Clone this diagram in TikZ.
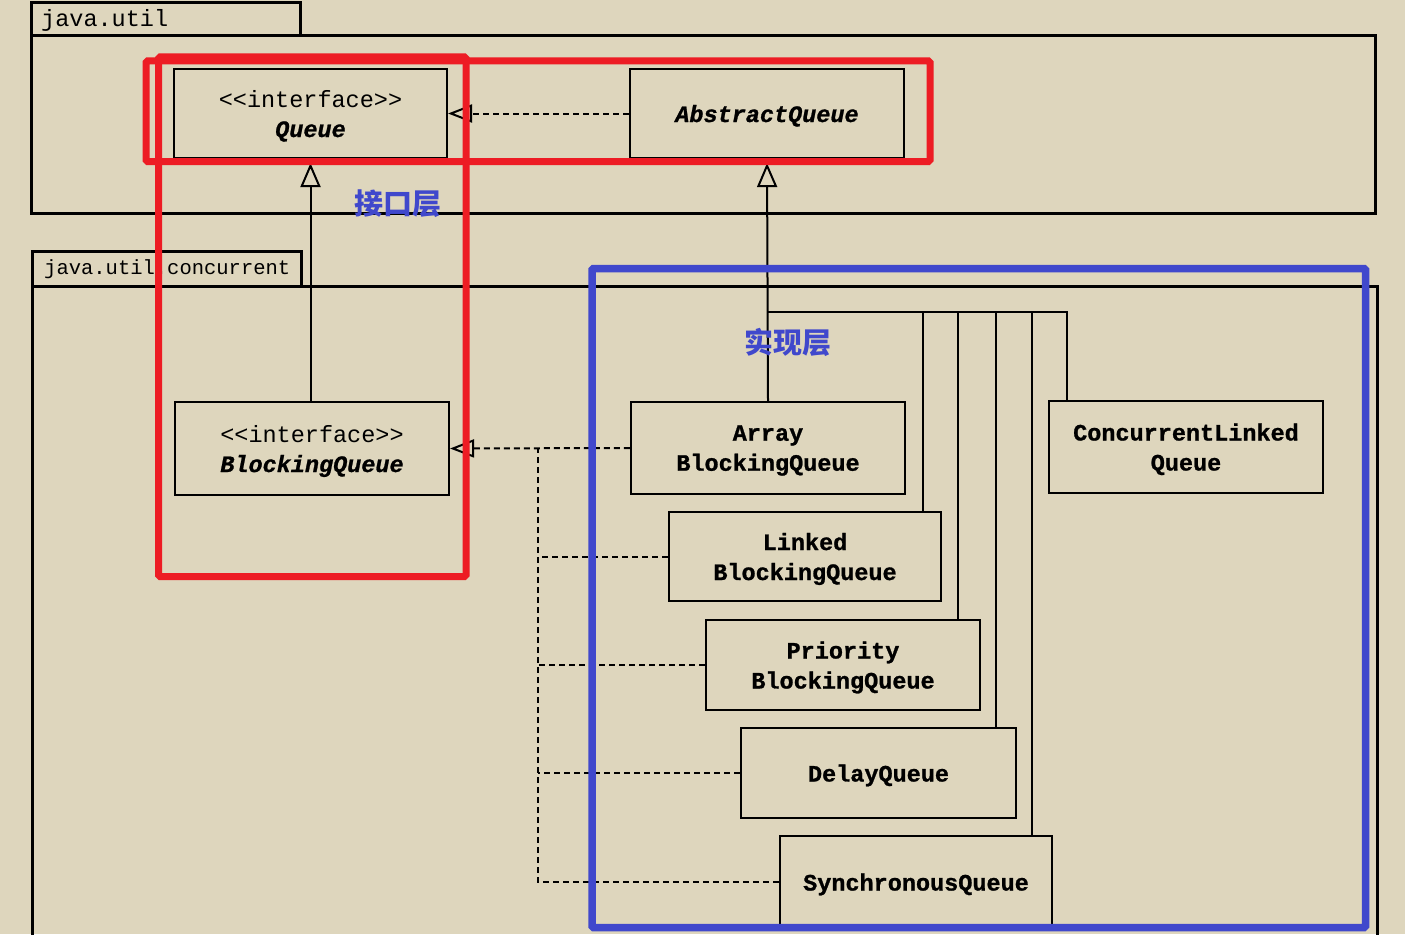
\documentclass[tikz,border=0pt]{standalone}
\usepackage{fontspec}
\setmonofont{Liberation Mono}
\newfontfamily\clsfont{Liberation Mono}[FakeBold=1]
\newfontfamily\cjk{Noto Sans CJK SC}
\usetikzlibrary{arrows.meta}
\definecolor{bg}{RGB}{222,214,189}
\definecolor{annred}{RGB}{237,28,36}
\definecolor{annblue}{RGB}{64,72,204}
\newcommand\stereotxt{\ttfamily\mdseries\upshape\fontsize{23.5}{30}\selectfont <{}<interface>{}>}
\begin{document}
\begin{tikzpicture}[x=1pt,y=-1pt,
  pkg/.style={draw, line width=3pt},
  pkgtext/.style={anchor=west, inner sep=0pt, font=\ttfamily\fontsize{23.5}{28}\selectfont},
  cls/.style={draw, line width=2.1pt, minimum width=274pt, minimum height=90pt, inner sep=0pt, text depth=0pt, align=center, font=\clsfont\bfseries\fontsize{23.5}{30}\selectfont},
  realize/.style={line width=2pt, dash pattern=on 6pt off 4pt, -{Triangle[open,length=24pt,width=18pt,line width=2pt,sep=0pt]}},
  generalize/.style={line width=2pt, -{Triangle[open,length=24pt,width=20pt,line width=2pt]}, shorten >=4pt},
  dashline/.style={line width=2pt, dash pattern=on 6pt off 4pt},
  solidline/.style={line width=2pt},
  annred/.style={draw=annred, line width=7pt, rounded corners=1.5pt},
  annblue/.style={draw=annblue, line width=7.5pt, rounded corners=1.5pt},
  layer/.style={text=annblue, font=\cjk\bfseries\fontsize{29}{32}\selectfont, inner sep=0pt}
]
\path[use as bounding box, fill=bg] (0,0) rectangle (1405,934);

% packages
\draw[pkg] (31,3) rectangle (300,36);
\node[pkgtext] (pkgutil) at (41,20.5) {java.util};
\draw[pkg] (31,36) rectangle (1375,213);
\draw[pkg] (32,251.5) rectangle (301.5,286);
\node[pkgtext, font=\ttfamily\fontsize{20.5}{24}\selectfont] (pkgconc) at (44,269.5) {java.util.concurrent};
\draw[pkg] (32,286) rectangle (1377,980);

% classes
\node[cls, minimum width=273pt, minimum height=89pt] (queue) at (310.5,113.5) {{\stereotxt}\\\itshape Queue};
\node[cls, minimum height=89pt] (aq) at (767,113.5) {\itshape AbstractQueue};
\node[cls, minimum height=93pt] (bq) at (312,448.5) {{\stereotxt}\\\itshape BlockingQueue};
\node[cls, minimum height=92pt] (abq) at (768,448) {Array\\BlockingQueue};
\node[cls, minimum width=272pt, minimum height=89pt] (lbq) at (805,556.5) {Linked\\BlockingQueue};
\node[cls] (pbq) at (843,665) {Priority\\BlockingQueue};
\node[cls, minimum width=275pt] (dq) at (878.5,773) {DelayQueue};
\node[cls, minimum width=272pt, minimum height=92pt] (sq) at (916,882) {SynchronousQueue};
\node[cls, minimum height=92pt] (clq) at (1186,447) {ConcurrentLinked\\Queue};

% interface realization (dashed)
\coordinate (dj) at (538,449);
\draw[realize] (aq.west) -- (queue.east);
\draw[realize] (abq.west) -- (bq.east);
\draw[dashline] (lbq.west) -- (lbq.west -| dj);
\draw[dashline] (pbq.west) -- (pbq.west -| dj);
\draw[dashline] (dq.west) -- (dq.west -| dj);
\draw[dashline] (sq.west) -- (sq.west -| dj) -- (dj);

% generalization (solid)
\draw[generalize] (bq.north -| queue.south) -- (queue.south);
\draw[generalize] (abq.north) -- (aq.south);
\coordinate (t1) at (923,312);
\coordinate (t2) at (958,312);
\coordinate (t3) at (996,312);
\coordinate (t4) at (1032,312);
\coordinate (t5) at (1067,312);
\draw[solidline] (abq.north |- t1) -- (t5) -- (t5 |- clq.north);
\draw[solidline] (t1) -- (t1 |- lbq.north);
\draw[solidline] (t2) -- (t2 |- pbq.north);
\draw[solidline] (t3) -- (t3 |- dq.north);
\draw[solidline] (t4) -- (t4 |- sq.north);

% annotations
\draw[annred] (146,61) rectangle (930,161.5);
\draw[annred] (158.5,57) rectangle (466,576.5);
\draw[annblue] (592,268.5) rectangle (1365.5,927.5);
\node[layer] (l1) at (398,204) {接口层};
\node[layer] (l2) at (788,342) {实现层};
\end{tikzpicture}
\end{document}
